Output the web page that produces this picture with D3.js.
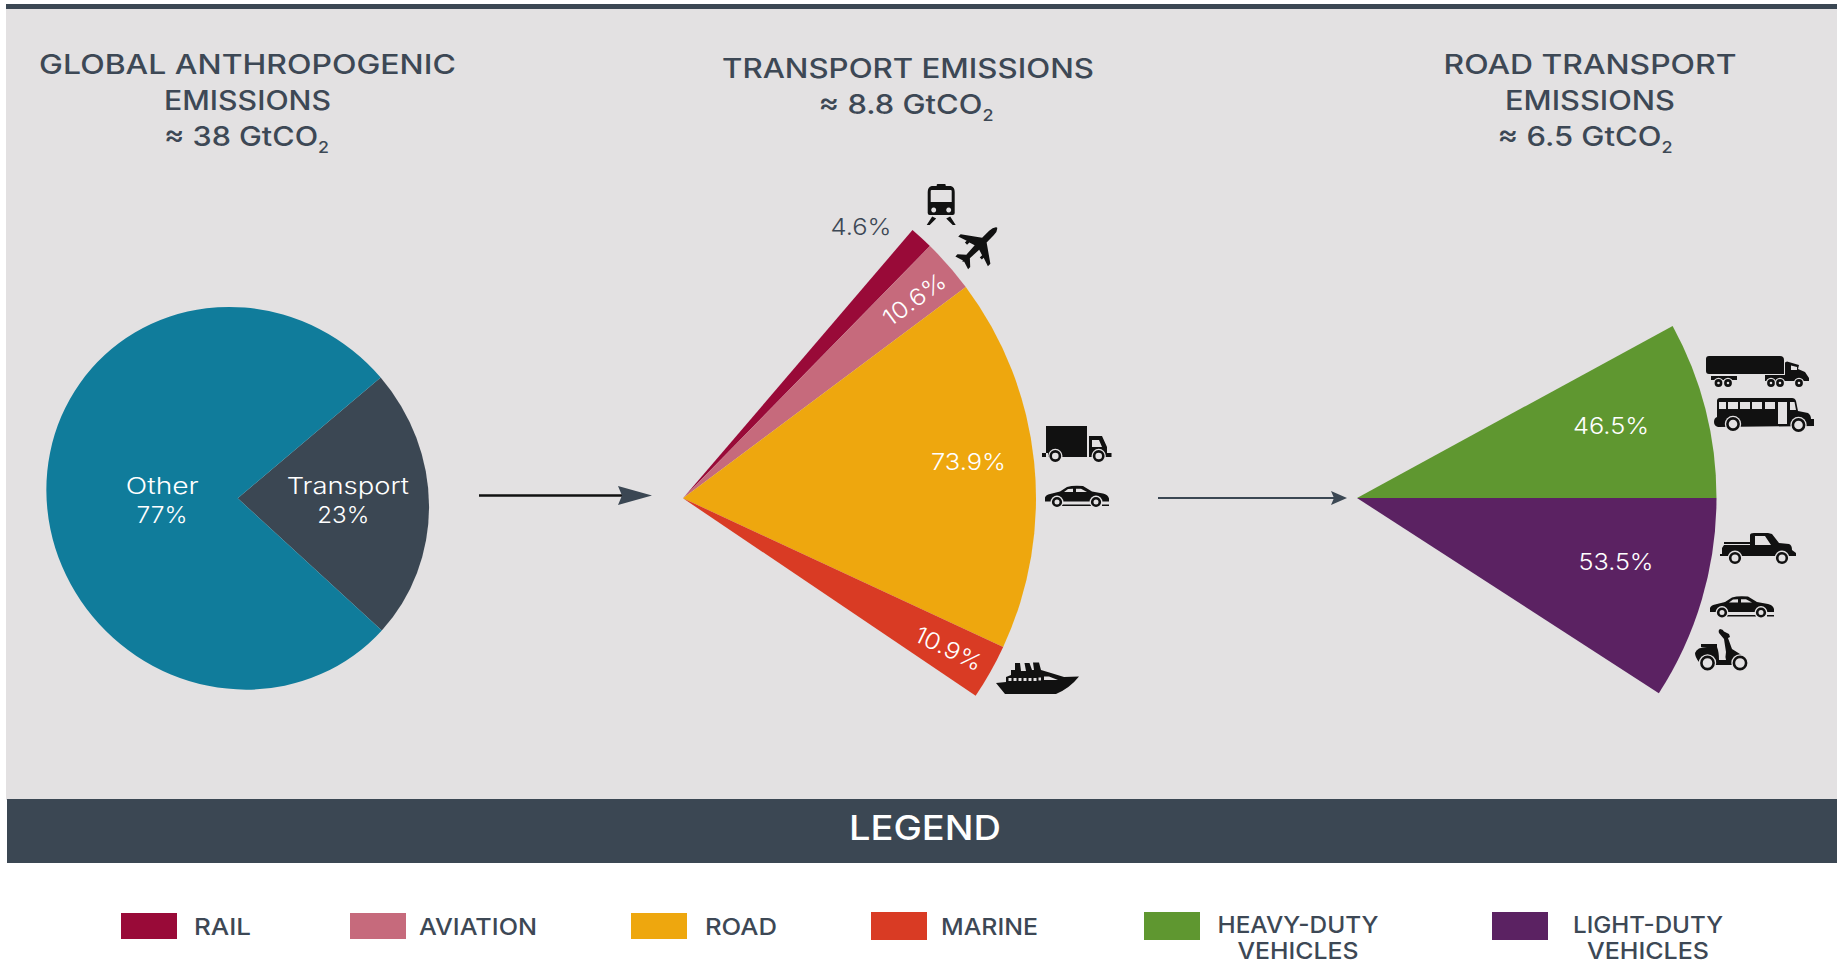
<!DOCTYPE html>
<html><head><meta charset="utf-8">
<script src="https://cdn.jsdelivr.net/npm/d3@7"></script>
<style>
html,body{margin:0;padding:0;background:#fff;overflow:hidden}
svg{display:block}
text{font-family:Inter,"Noto Sans",sans-serif}
</style></head><body>
<svg id="c" width="1841" height="965"></svg>
<script>
// ---- data ----
const globalCategories = ["Transport","Other"];
const globalValues = [23,77];
const globalColors = ["#3B4753","#107C9B"];
const transportCategories = ["Rail","Aviation","Road","Marine"];
const transportValues = [4.6,10.6,73.9,10.9];
const transportColors = ["#990A38","#C66A7C","#EEA70E","#D93B24"];
const roadCategories = ["Heavy-duty vehicles","Light-duty vehicles"];
const roadValues = [46.5,53.5];
const roadColors = ["#5F9730","#5B2262"];
const legendLabels = [["RAIL"],["AVIATION"],["ROAD"],["MARINE"],["HEAVY-DUTY","VEHICLES"],["LIGHT-DUTY","VEHICLES"]];
const legendColors = ["#990A38","#C66A7C","#EEA70E","#D93B24","#5F9730","#5B2262"];

const INK="#3D4855", BG="#E3E1E2", DARK="#3B4753";
const rad=d=>d*Math.PI/180;
const svg=d3.select("#c");

// panels
svg.append("rect").attr("x",6).attr("y",4).attr("width",1831).attr("height",796).attr("fill",BG);
svg.append("rect").attr("x",6).attr("y",4).attr("width",1831).attr("height",5).attr("fill",DARK);
svg.append("rect").attr("x",7).attr("y",799).attr("width",1830).attr("height",64).attr("fill",DARK);

// text helper: stretches the glyphs horizontally to reach the measured width
function label(p,o){
  const t=p.append("text").attr("text-anchor",o.anchor||"middle").attr("fill",o.fill||INK)
    .attr("font-size",o.size).attr("font-weight",o.weight||400);
  t.append("tspan").text(o.text);
  if(o.sub) t.append("tspan").attr("font-size",o.size*0.58).attr("dy",7).text(o.sub);
  const sx=o.w?o.w/t.node().getComputedTextLength():1;
  t.attr("transform",`translate(${o.x},${o.y})`+(o.rot?` rotate(${o.rot})`:"")+` scale(${sx.toFixed(4)},1)`);
  return t;
}

// pies
function wedge(cx,cy,r,values,colors,a0,a1,k){
  const s=k||0;
  const g=svg.append("g").attr("transform",`matrix(1,${s},${s},1,${cx},${cy})`);
  const pie=d3.pie().sort(null).startAngle(rad(a0)).endAngle(rad(a1));
  const arc=d3.arc().innerRadius(0).outerRadius(r);
  g.selectAll("path").data(pie(values)).join("path").attr("d",arc).attr("fill",(d,i)=>colors[i]);
}
wedge(237.7,498.3,191.3,globalValues,globalColors,49.6,409.6,0.022);
wedge(683,498.3,353,transportValues,transportColors,40.55,124);
wedge(1357,498,359.5,roadValues,roadColors,61.4,122.9);

// titles
const titleStyle={size:26.5,weight:500};
[
 {text:"GLOBAL ANTHROPOGENIC",x:247.5,y:74,w:417},
 {text:"EMISSIONS",x:247.5,y:110,w:167},
 {text:"≈ 38 GtCO",sub:"2",x:246.5,y:146,w:165},
 {text:"TRANSPORT EMISSIONS",x:908,y:78,w:372},
 {text:"≈ 8.8 GtCO",sub:"2",x:906,y:114,w:175},
 {text:"ROAD TRANSPORT",x:1590,y:74,w:293},
 {text:"EMISSIONS",x:1590,y:110,w:170},
 {text:"≈ 6.5 GtCO",sub:"2",x:1585,y:146,w:175}
].forEach(o=>label(svg,{...titleStyle,...o}));

// value labels
const W="#fff";
[
 {text:"Other",x:162.3,y:494,w:73,fill:W},
 {text:"77%",x:162,y:522.7,w:51,fill:W},
 {text:"Transport",x:347.8,y:494,w:122.3,fill:W},
 {text:"23%",x:343.3,y:522.7,w:52,fill:W},
 {text:`${transportValues[0]}%`,x:861,y:235,w:61,fill:INK},
 {text:`${transportValues[1]}%`,x:919,y:306,w:72,fill:W,rot:-36},
 {text:`${transportValues[2]}%`,x:968.5,y:470,w:75,fill:W},
 {text:`${transportValues[3]}%`,x:945,y:656,w:72,fill:W,rot:26},
 {text:`${roadValues[0]}%`,x:1611,y:434,w:76,fill:W},
 {text:`${roadValues[1]}%`,x:1616,y:570,w:75,fill:W}
].forEach(o=>label(svg,{size:23,weight:300,...o}));

// arrows
svg.append("line").attr("x1",479).attr("x2",625).attr("y1",495.5).attr("y2",495.5).attr("stroke","#111").attr("stroke-width",2.5);
svg.append("path").attr("d","M618 486L652 495.5L618 505L622 495.5Z").attr("fill",DARK);
svg.append("line").attr("x1",1158).attr("x2",1340).attr("y1",498).attr("y2",498).attr("stroke",DARK).attr("stroke-width",2);
svg.append("path").attr("d","M1331 491L1347 498L1331 505L1334 498Z").attr("fill",DARK);

// legend
label(svg,{text:"LEGEND",x:925,y:840,size:34,weight:500,fill:"#fff",w:152});
const legendItems=[
 {x:121,y:913,h:26,lx:194,w:[57],by:[935]},
 {x:350,y:913,h:26,lx:419,w:[118],by:[935]},
 {x:631,y:913,h:26,lx:705,w:[72],by:[935]},
 {x:871,y:912,h:28,lx:941,w:[97],by:[935]},
 {x:1144,y:912,h:28,lx:1298,w:[161,121],by:[933,959],mid:true},
 {x:1492,y:912,h:28,lx:1648,w:[150,122],by:[933,959],mid:true}
];
legendItems.forEach((it,i)=>{
  svg.append("rect").attr("x",it.x).attr("y",it.y).attr("width",56).attr("height",it.h).attr("fill",legendColors[i]);
  legendLabels[i].forEach((s,j)=>label(svg,{text:s,x:it.lx,y:it.by[j],size:j?22.5:23,weight:500,w:it.w[j],anchor:it.mid?"middle":"start"}));
});

// vehicle pictograms
const K="#111";
function icon(x,y,d,wheels,rot){
  const g=svg.append("g").attr("transform",`translate(${x},${y})`+(rot?` rotate(${rot})`:""));
  g.append("path").attr("d",d).attr("fill",K).attr("fill-rule","evenodd");
  (wheels||[]).forEach(([cx,cy,r])=>{
    g.append("circle").attr("cx",cx).attr("cy",cy).attr("r",r+1.2).attr("fill",BG);
    g.append("circle").attr("cx",cx).attr("cy",cy).attr("r",r-1.4).attr("fill",BG).attr("stroke",K).attr("stroke-width",2.6);
  });
}
// train
icon(926.7,184,"M10 1Q10 0 11 0H18Q19 0 19 1V2H24Q28 3 28 8V29Q28 31 26 31H3Q1 31 1 29V8Q1 3 5 2H10ZM5 6Q4 6 4 7V18H25V7Q25 6 24 6ZM7 23.5a2.5 2.5 0 1 0 .01 0ZM22 23.5a2.5 2.5 0 1 0 .01 0ZM5.500 32.500L9.500 34.500L3 41H0ZM23.500 32.500L19.500 34.500L26 41H29Z");
// plane
icon(978,246.500,"M0 -27Q3.200 -25 3.200 -19V-9L21 3.500V7L12 4V6.500H9V3.200L3.200 1.500L2.500 14L9 20V23L0.800 20.500L0 22L-0.800 20.500L-9 23V20L-2.500 14L-3.200 1.500L-9 3.200V6.500H-12V4L-21 7V3.500L-3.200 -9V-19Q-3.200 -25 0 -27Z",null,45);
// truck
icon(1042,426,"M4 0H45V31H4ZM47 10H60L65 21V27H69.500V31H47ZM50 14V21H60L57 14ZM0 27H6V31H0Z",[[13.300,30,6],[56.700,30,6]]);
// car
const carD="M0 12Q1 9 5 8.500L15 6L22 1.500Q28 -.5 38 .500L47 6L58 8Q63 9 64 13V16H0ZM23 3.500L19 6.500H28V3.200ZM31 3.200V6.500H42L36 3.200ZM17 19H46V20.500H17ZM57 19H64V20.500H57Z";
icon(1045,485.500,carD,[[12,16.500,5.200],[51,16.500,5.200]]);
// ship
icon(996,662,"M19 1H24L25 9H30L28.500 1H33.500L36 8H38L37 .5H43L45 8L55 11L68 15L83 14.500Q74 26 60 32H9L0 21L10 20V15L15 13V8H19ZM12.500 16V19H15.500V16ZM17.500 16V19H20.500V16ZM22.500 16V19H25.500V16ZM27.500 16V19H30.500V16ZM32.500 16V19H35.500V16ZM37.500 16V19H40.500V16ZM42.500 15.500V18.500H45V15.500ZM48 14.500V18H62L53 14.500Z");
// semi
icon(1706,356,"M3 0H74Q78 0 78 4V18H3Q0 18 0 15V3Q0 0 3 0ZM5 20H31V24H5ZM59 19H79V6.500L81 5.500L93 9L92 13L99 16L103 22V25H59ZM85 9.500V14H91V11Z",[[12.500,27,4],[22,27,4],[65,27,4],[74,27,4],[93,27,4]]);
// bus
icon(1714,398,"M6 0H78Q81 0 82 3L84 13L94 15Q97 17 97 21H100V28L4 29Q0 28 0 24Q0 20 3 19V3Q3 0 6 0ZM5 4V11H12V4ZM14 4V11H24V4ZM26 4V11H36V4ZM38 4V11H48V4ZM51 4V11H61V4ZM64 4V26H73V4ZM76 4V12H82L80.500 4Z",[[19,26,7],[84.500,27,7]]);
// pickup
icon(1720,533,"M34 0H48L52 1L59 10L69 11Q72 12 72 17L76 20V23H0V21H2V15L4 12H30V2Q30 0 34 0ZM35 3V12H51L45 3ZM4 9H30V11H4Z",[[15,25,6.200],[62,25,6.200]]);
// second car
icon(1710,596,carD,[[12,16.500,5.200],[51,16.500,5.200]]);
// scooter
icon(1695,629,"M25 0Q28 0 29 2.500L34 5L35 8L33 9L37 20L45 25L53 31V33L48 29H42L40 32L37 36H17L15 31L14 28L8 29L4 33Q0 28 0 24Q2 18 12 18H6V15H22V18Q24 23 24 31H31Q30 28 31 23L29 10L24 4Q23 1 25 0Z",[[12.500,34,7.500],[45,34,7.500]]);
</script>
</body></html>
